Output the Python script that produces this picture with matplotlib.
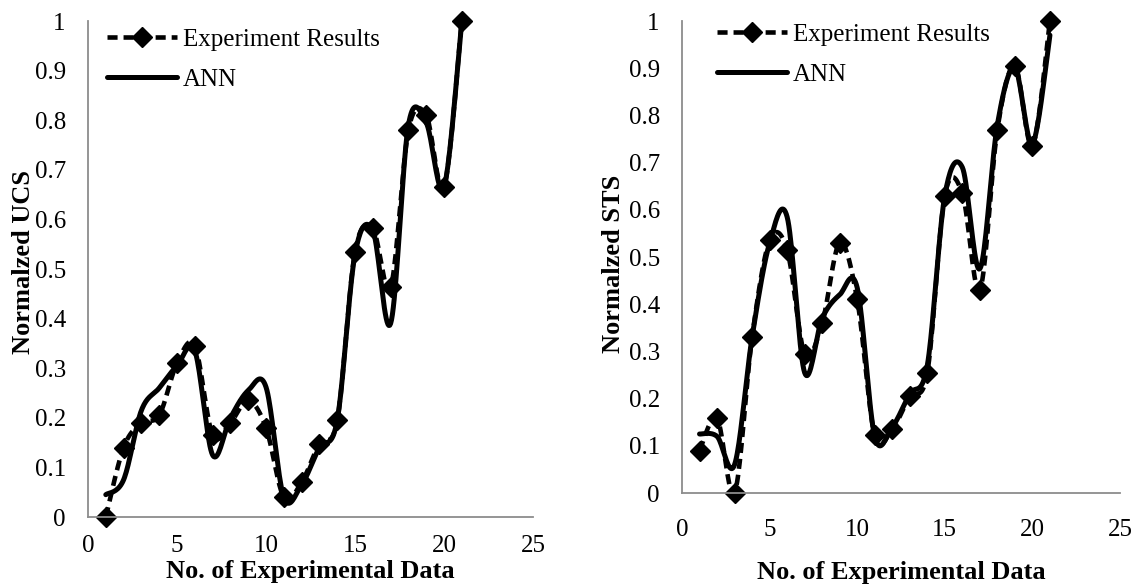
import numpy as np
import matplotlib
matplotlib.use("Agg")
import matplotlib.pyplot as plt

plt.rcParams['font.family'] = ['Liberation Serif', 'DejaVu Serif']
plt.rcParams['font.size'] = 18

# data
sample_no = list(range(1, 22))

ucs_exp = [0.0, 0.14, 0.19, 0.205, 0.31, 0.345, 0.165, 0.19, 0.235, 0.18, 0.04,
           0.07, 0.148, 0.195, 0.534, 0.582, 0.463, 0.78, 0.81, 0.665, 1.0]
ucs_ann = [0.045, 0.075, 0.215, 0.26, 0.305, 0.335, 0.125, 0.2, 0.255, 0.262, 0.04,
           0.065, 0.14, 0.195, 0.53, 0.578, 0.39, 0.79, 0.795, 0.665, 1.0]

sts_exp = [0.09, 0.158, 0.0, 0.33, 0.535, 0.515, 0.295, 0.36, 0.53, 0.41, 0.122,
           0.135, 0.205, 0.255, 0.63, 0.635, 0.43, 0.77, 0.905, 0.735, 1.0]
sts_ann = [0.125, 0.12, 0.06, 0.33, 0.53, 0.585, 0.255, 0.37, 0.42, 0.435, 0.12,
           0.14, 0.21, 0.27, 0.63, 0.69, 0.475, 0.78, 0.9, 0.74, 0.97]


# Excel style smoothed line (cubic bezier between points)
def smooth(x, y, n=20):
    p = np.column_stack([x, y]).astype(float)
    out = [p[0]]
    t = np.linspace(0, 1, n + 1)[1:, None]
    for i in range(len(p) - 1):
        p0 = p[i - 1] if i > 0 else p[i]
        p3 = p[i + 2] if i + 2 < len(p) else p[i + 1]
        c1 = p[i] + (p[i + 1] - p0) / 6
        c2 = p[i + 1] - (p3 - p[i]) / 6
        seg = ((1 - t) ** 3 * p[i] + 3 * (1 - t) ** 2 * t * c1
               + 3 * (1 - t) * t ** 2 * c2 + t ** 3 * p[i + 1])
        out.extend(seg)
    out = np.array(out)
    return out[:, 0], out[:, 1]


W, H = 1136, 586
fig = plt.figure(figsize=(W / 100, H / 100), dpi=100)


def px_axes(l, r, b, t):
    return fig.add_axes([l / W, 1 - b / H, (r - l) / W, (b - t) / H])


def draw(ax, exp, ann, ylab, tickpad_x, xlab_y, ylab_xy, leg_xy):
    n = 20
    xs, ys = smooth(sample_no, exp, n)
    ax.plot(xs, ys, color='black', lw=3.3, dashes=(2.2, 1.3),
            marker='D', markersize=10, markevery=n, label='Experiment Results',
            solid_capstyle='butt', dash_capstyle='butt')
    xa, ya = smooth(sample_no, ann, n)
    ax.plot(xa, ya, color='black', lw=3.6, label='ANN', solid_capstyle='round')

    ax.set_xlim(0, 25)
    ax.set_ylim(0, 1)
    ax.set_xticks([0, 5, 10, 15, 20, 25])
    ax.set_yticks(np.arange(0, 1.01, 0.1))
    ax.set_yticklabels(['0'] + ['%.1f' % v for v in np.arange(0.1, 0.95, 0.1)] + ['1'])
    ax.tick_params(axis='both', length=0)
    ax.tick_params(axis='y', pad=16)
    ax.tick_params(axis='x', pad=tickpad_x)
    for s in ['top', 'right']:
        ax.spines[s].set_visible(False)
    for s in ['left', 'bottom']:
        ax.spines[s].set_color('#8c8c8c')
        ax.spines[s].set_linewidth(1.3)
    ax.patch.set_alpha(0)
    for ln in ax.lines:
        ln.set_clip_on(False)

    ax.set_xlabel('No. of Experimental Data', fontweight='bold', fontsize=19)
    ax.xaxis.label.set_va('center')
    ax.xaxis.set_label_coords(0.5, xlab_y)
    ax.set_ylabel(ylab, fontweight='bold', fontsize=19)
    ax.yaxis.label.set_va('center')
    ax.yaxis.set_label_coords(*ylab_xy)

    ax.legend(loc='upper left', bbox_to_anchor=(leg_xy[0] / W, 1 - leg_xy[1] / H),
              bbox_transform=fig.transFigure, frameon=False, borderpad=0,
              handlelength=2.8, handletextpad=0.25, labelspacing=0.7)


ax1 = px_axes(88, 533, 517, 21)
draw(ax1, ucs_exp, ucs_ann, 'Normalzed UCS', 13, -0.11, (-0.144, 0.514), (94, 16))

ax2 = px_axes(682, 1120, 493, 21)
draw(ax2, sts_exp, sts_ann, 'Normalzed STS', 19, -0.168, (-0.156, 0.485), (704, 11))

fig.savefig('out.png', dpi=100)
